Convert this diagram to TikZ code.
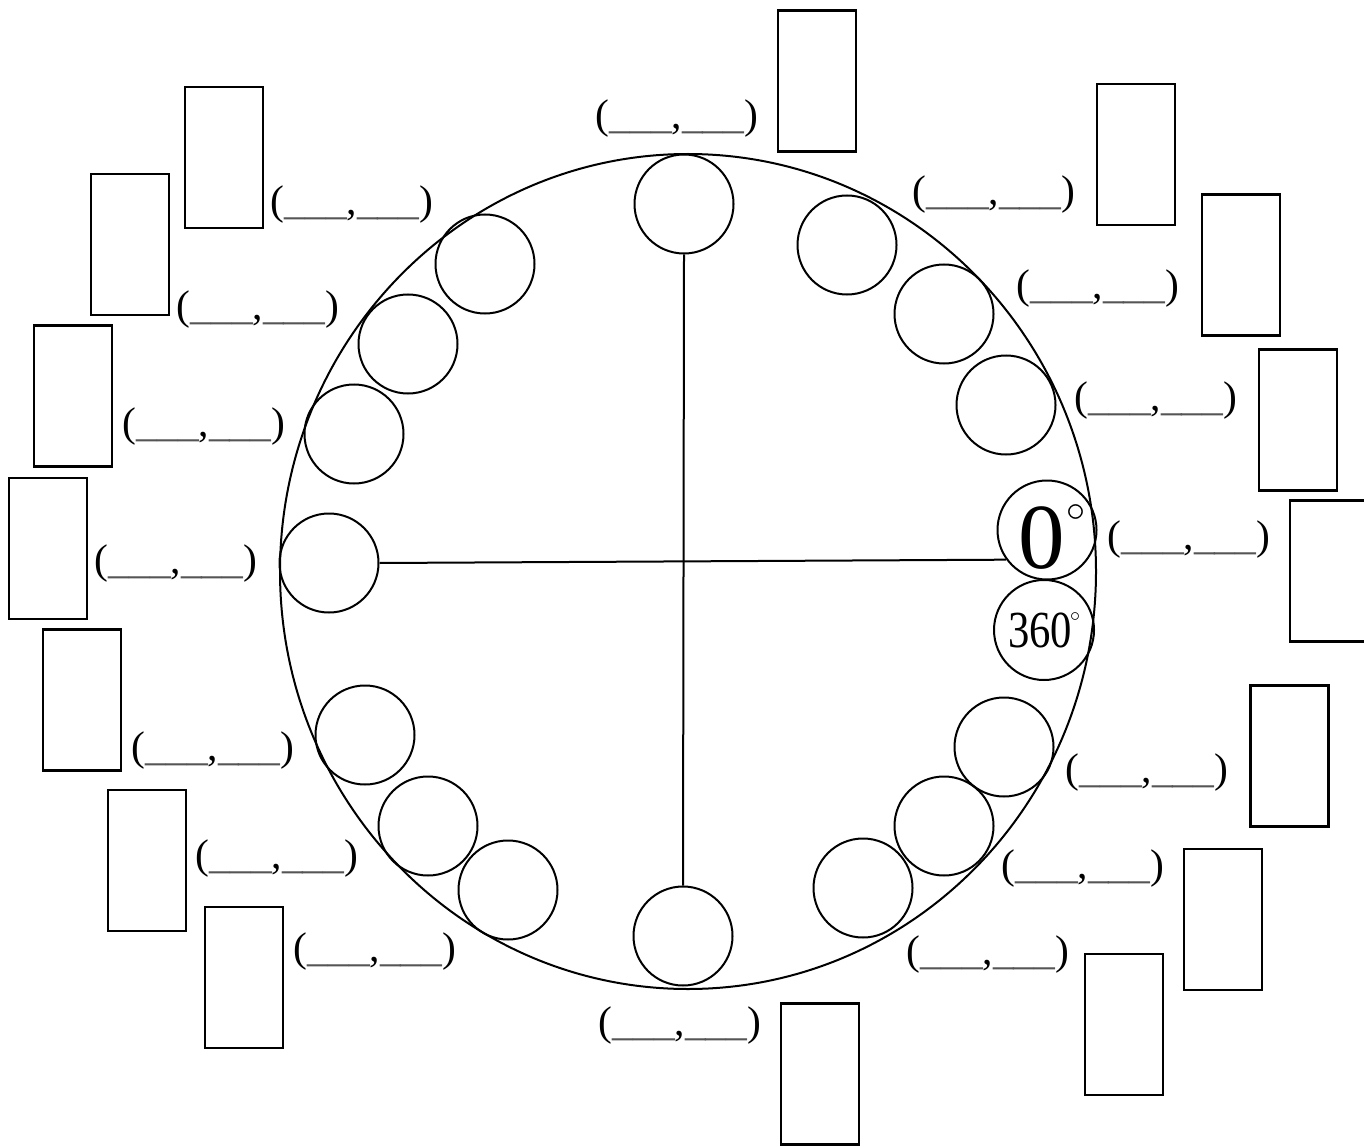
\RequirePackage{fix-cm}
\documentclass[tikz,border=0pt]{standalone}
\usepackage{fontspec}
\setmainfont{Liberation Serif}
\usetikzlibrary{shapes.geometric}
\definecolor{ugray}{HTML}{555555}
\newcommand{\blankpair}{(\textcolor{ugray}{\_\_\_},\textcolor{ugray}{\_\_\_})}
\tikzset{
  slot/.style={circle, draw, line width=2pt, minimum size=99pt, inner sep=0pt},
  card/.style={rectangle, draw, line width=2.2pt, minimum width=78pt, minimum height=141pt, inner sep=0pt},
  pair/.style={inner sep=0pt, font=\fontsize{41.5}{41.5}\selectfont},
}
\begin{document}
\begin{tikzpicture}[x=1pt, y=-1pt]
\clip (0,0) rectangle (1364,1147);
\fill[white] (0,0) rectangle (1364,1147);
% main dial
\node (dial) [draw, ellipse, line width=2pt, minimum width=816pt, minimum height=835pt, inner sep=0pt] at (688,571.5) {};
% slots on the dial
\node (ctop) [slot] at (684,204) {};
\node (cur1) [slot] at (847,245) {};
\node (cur2) [slot] at (944,314) {};
\node (cur3) [slot] at (1006,405) {};
\node (czero) [slot] at (1047,530) {};
\node (cfull) [slot, minimum size=100pt] at (1044,630) {};
\node (clr1) [slot] at (1004,747) {};
\node (clr2) [slot] at (944,826) {};
\node (clr3) [slot] at (863,888) {};
\node (cbot) [slot] at (683,936) {};
\node (cll3) [slot] at (508,890) {};
\node (cll2) [slot] at (428,826) {};
\node (cll1) [slot] at (365,735) {};
\node (cleft) [slot] at (329,563) {};
\node (cul3) [slot] at (354,434) {};
\node (cul2) [slot] at (408,344) {};
\node (cul1) [slot] at (485,264) {};
% texts in the zero / 360 slots
\node (tzero) [inner sep=0pt, font=\fontsize{93}{93}\selectfont] at (1042,538.5) {0};
\node (dzero) [inner sep=0pt, font=\fontsize{38}{38}\selectfont] at (1076,513) {$\circ$};
\node (tfull) [inner sep=0pt, xscale=0.82, font=\fontsize{52}{52}\selectfont] at (1040,630.5) {360};
\node (dfull) [inner sep=0pt, font=\fontsize{20}{20}\selectfont] at (1075,617) {$\circ$};
% axes
\draw[line width=2pt] (ctop.south) -- (cbot.north);
\draw[line width=2pt] (cleft.east) -- (czero.216);
% cards
\node (rtop) [card] at (817,81) {};
\node (rur1) [card] at (1136,154.5) {};
\node (rur2) [card] at (1241,265) {};
\node (rur3) [card] at (1298,420) {};
\node (rright) [card] at (1329,571) {};
\node (rlr1) [card] at (1289.5,756) {};
\node (rlr2) [card] at (1223,919.5) {};
\node (rlr3) [card] at (1124,1024.5) {};
\node (rbot) [card] at (820,1074) {};
\node (rul1) [card] at (224,157.5) {};
\node (rul2) [card] at (130,244.5) {};
\node (rul3) [card] at (73,396) {};
\node (rleft) [card] at (48,548.5) {};
\node (rll1) [card] at (82,700) {};
\node (rll2) [card] at (147,860.5) {};
\node (rll3) [card] at (244,977.5) {};
% coordinate blanks
\node (ltop) [pair] at (677,119) {\blankpair};
\node (lur1) [pair] at (994,195) {\blankpair};
\node (lur2) [pair] at (1098,289) {\blankpair};
\node (lur3) [pair] at (1156,401) {\blankpair};
\node (lright) [pair] at (1189,540) {\blankpair};
\node (llr1) [pair] at (1147,773) {\blankpair};
\node (llr2) [pair] at (1083,869) {\blankpair};
\node (llr3) [pair] at (988,955) {\blankpair};
\node (lbot) [pair] at (680,1026) {\blankpair};
\node (lul1) [pair] at (352,205) {\blankpair};
\node (lul2) [pair] at (258,310) {\blankpair};
\node (lul3) [pair] at (204,427) {\blankpair};
\node (lleft) [pair] at (176,564) {\blankpair};
\node (lll1) [pair] at (213,751) {\blankpair};
\node (lll2) [pair] at (277,859) {\blankpair};
\node (lll3) [pair] at (375,952) {\blankpair};
\end{tikzpicture}
\end{document}
